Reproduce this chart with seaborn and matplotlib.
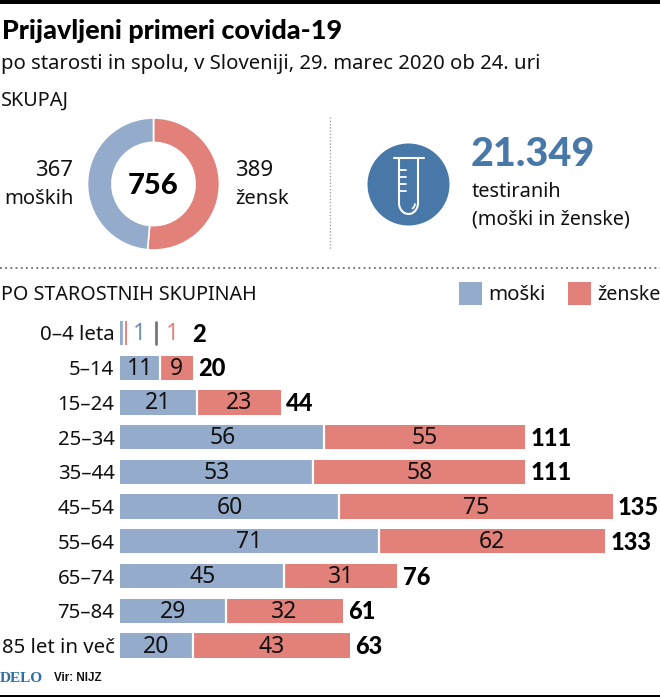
import matplotlib
matplotlib.use("Agg")
import matplotlib.pyplot as plt
from matplotlib.patches import Circle, Rectangle
import numpy as np
import pandas as pd
import seaborn as sns

groups = ["0–4 leta", "5–14", "15–24", "25–34", "35–44", "45–54", "55–64", "65–74", "75–84", "85 let in več"]
men = [1, 11, 21, 56, 53, 60, 71, 45, 29, 20]
women = [1, 9, 23, 55, 58, 75, 62, 31, 32, 43]
totals = [2, 20, 44, 111, 111, 135, 133, 76, 61, 63]
donut_values = [389, 367]

BLUE = "#94ABCB"
RED = "#E2807A"
DARK = "#4878A8"
INK = "#111111"
W, H = 660, 697

sns.set_theme(style="white")
plt.rcParams["font.family"] = ["Noto Sans", "DejaVu Sans"]
BOLD = ["Lato", "DejaVu Sans"]

fig = plt.figure(figsize=(W / 100, H / 100), dpi=100, facecolor="white")


def px_axes(x0, y0, x1, y1):
    return fig.add_axes([x0 / W, 1 - y1 / H, (x1 - x0) / W, (y1 - y0) / H])


ov = fig.add_axes([0, 0, 1, 1], zorder=5)
ov.set_xlim(0, W)
ov.set_ylim(H, 0)
ov.axis("off")
ov.patch.set_alpha(0)

ROW0, ROWN = 333.0, 645.5
step = (ROWN - ROW0) / 9
ax = px_axes(120, ROW0 - step / 2, W, ROWN + step / 2)
df = pd.DataFrame({"group": groups, "men": men, "women": women, "total": totals})
sns.barplot(data=df, y="group", x="total", orient="h", color=RED, saturation=1,
            width=0.70, ax=ax, linewidth=0)
sns.barplot(data=df, y="group", x="men", orient="h", color=BLUE, saturation=1,
            width=0.70, ax=ax, linewidth=0)
ax.set_xlim(0, (W - 120) / 3.65)
ax.set_ylim(9.5, -0.5)
ax.set_xlabel("")
ax.set_ylabel("")
ax.set_xticks([])
ax.set_yticks(range(len(groups)))
ax.set_yticklabels(groups, fontsize=14.7, color=INK)
ax.tick_params(axis="y", length=0, pad=4)
sns.despine(ax=ax, left=True, bottom=True, top=True, right=True)
ax.patch.set_alpha(0)

for i, (m, w, t) in enumerate(zip(men, women, totals)):
    yt = i + 0.03
    ax.plot([m, m], [i - 0.35, i + 0.35], color="white", lw=1.6, solid_capstyle="butt", zorder=5)
    if i == 0:
        ax.text(5.4, yt, str(m), color="#6E8FB8", fontsize=16.5, ha="center", va="center")
        ax.plot([9.9, 9.9], [i - 0.32, i + 0.32], color="#777777", lw=2, zorder=5)
        ax.text(14.5, yt, str(w), color=RED, fontsize=16.5, ha="center", va="center")
        ax.text(21.6, yt, str(t), color="black", fontsize=17, weight=900, family=BOLD, ha="center", va="center")
    else:
        ax.text(m / 2, yt, str(m), color=INK, fontsize=16.5, ha="center", va="center")
        ax.text(m + w / 2, yt, str(w), color=INK, fontsize=16.5, ha="center", va="center")
        ax.text(t + 1.4, yt, str(t), color="black", fontsize=17, weight=900, family=BOLD, ha="left", va="center")

r = 66
dax = px_axes(153.5 - r, 184 - r, 153.5 + r, 184 + r)
dax.pie(donut_values, colors=[RED, BLUE], startangle=90, counterclock=False, radius=1,
        wedgeprops=dict(width=0.37, edgecolor="white", linewidth=1.2))
dax.set_xlim(-1, 1)
dax.set_ylim(-1, 1)

ov.add_patch(Rectangle((0, 0), W, 3.5, color="black", lw=0))
ov.add_patch(Rectangle((0, 695), W, 2, color="black", lw=0))
ov.plot([0, W], [268, 268], color="#555555", lw=1.1, ls=(0, (1.2, 2.2)))
ov.plot([330, 330], [117, 250], color="#999999", lw=0.9, ls=(0, (1, 1.6)))

ov.text(2, 31, "Prijavljeni primeri covida-19", fontsize=19.4, weight=900, family=BOLD, color="black", va="center")
ov.text(1, 64, "po starosti in spolu, v Sloveniji, 29. marec 2020 ob 24. uri", fontsize=14.6, color=INK, va="center")
ov.text(1, 101, "SKUPAJ", fontsize=14.3, color=INK, va="center")
ov.text(73, 170, "367", fontsize=16, color=INK, ha="right", va="center")
ov.text(74, 199, "moških", fontsize=14.5, color=INK, ha="right", va="center")
ov.text(235, 170, "389", fontsize=16, color=INK, ha="left", va="center")
ov.text(235, 199, "žensk", fontsize=14.5, color=INK, ha="left", va="center")
ov.text(153.5, 186, "756", fontsize=21, weight=900, family=BOLD, color="black", ha="center", va="center")
ov.text(471, 155, "21.349", fontsize=28.5, weight=900, family=BOLD, color=DARK, va="center")
ov.text(472, 192, "testiranih", fontsize=14.4, color=INK, va="center")
ov.text(472, 219, "(moški in ženske)", fontsize=14.2, color=INK, va="center")
ov.text(1, 295, "PO STAROSTNIH SKUPINAH", fontsize=14.2, color=INK, va="center")

ov.add_patch(Rectangle((458.5, 281.5), 23, 23, color=BLUE, lw=0))
ov.text(488, 295, "moški", fontsize=14.7, color=INK, va="center")
ov.add_patch(Rectangle((567.5, 281.5), 23, 23, color=RED, lw=0))
ov.text(597, 295, "ženske", fontsize=14.2, color=INK, va="center")

ov.add_patch(Circle((408.5, 184.5), 41, color=DARK, lw=0))
ov.plot([394, 424], [158, 158], color="white", lw=1.5)
t = np.linspace(np.pi, 0, 30)
tx = 408.5 + 9.5 * np.cos(t)
ty = 203 + 11 * np.sin(t)
ov.plot(np.r_[399, tx, 418], np.r_[158, ty, 158], color="white", lw=1.5)
for yy in (170, 177, 184, 191):
    ov.plot([399, 406], [yy, yy], color="white", lw=1.3)
t = np.linspace(0.15, 0.9, 12)
ov.plot(408.5 + 6.5 * np.cos(t), 203 + 7 * np.sin(t), color="white", lw=1.3)

ov.text(0, 678, "DELO", fontsize=11, weight="bold", color="#2F6FA5", va="center", family=["Liberation Serif"])
ov.text(54, 678, "Vir: NIJZ", fontsize=8.4, weight="bold", color=INK, va="center", family=["Liberation Sans"])

fig.savefig("out.png", dpi=100, facecolor="white")
